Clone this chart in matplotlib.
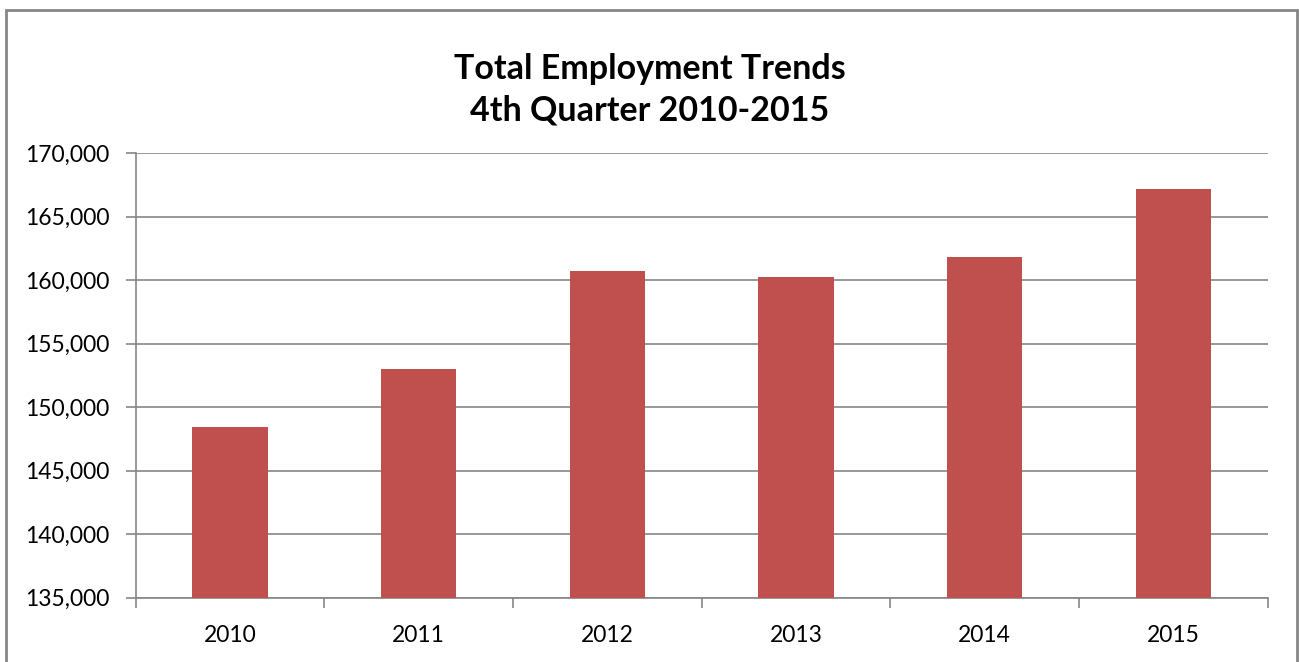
import matplotlib
matplotlib.use("Agg")
import matplotlib.pyplot as plt
from matplotlib.patches import Rectangle
from matplotlib.ticker import FuncFormatter, FixedLocator

years = ["2010", "2011", "2012", "2013", "2014", "2015"]
employment = [148460, 153010, 160710, 160290, 161850, 167210]
title = "Total Employment Trends\n4th Quarter 2010-2015"

plt.rcParams['font.family'] = ['Lato', 'DejaVu Sans']
GRAY = "#868686"
BAR = "#C0504D"

fig = plt.figure(figsize=(12.99, 6.62), dpi=100)
ax = fig.add_axes([0.1045, 0.0971, 0.9759 - 0.1045, 0.7684 - 0.0971])

x = list(range(len(years)))
ax.bar(x, employment, width=0.4, color=BAR, zorder=3)

ax.set_xlim(-0.5, len(years) - 0.5)
ax.set_ylim(135000, 170000)
ax.yaxis.set_major_locator(FixedLocator(range(135000, 170001, 5000)))
ax.yaxis.set_major_formatter(FuncFormatter(lambda v, p: f"{int(v):,}"))
ax.grid(axis='y', color=GRAY, linewidth=1.2, zorder=0)
ax.set_axisbelow(True)

ax.set_xticks(x)
ax.set_xticklabels(years)
ax.set_xticks([i - 0.5 for i in range(len(years) + 1)], minor=True)
ax.tick_params(axis='x', which='major', length=0, pad=20, labelsize=16.5, colors='black')
ax.tick_params(axis='x', which='minor', length=7, width=1.2, color=GRAY, direction='out')
ax.tick_params(axis='y', which='major', length=7, width=1.2, color=GRAY, direction='out', pad=12, labelsize=16.5, labelcolor='black')

for s in ['top', 'right']:
    ax.spines[s].set_visible(False)
for s in ['left', 'bottom']:
    ax.spines[s].set_color(GRAY)
    ax.spines[s].set_linewidth(1.2)

fig.text(0.5, 0.864, title, ha='center', va='center', fontsize=24.5, fontweight='bold', linespacing=1.35)

border = Rectangle((6 / 1299, -0.01), (1297 - 6) / 1299, 1 - 10 / 662 + 0.01, transform=fig.transFigure,
                   fill=False, edgecolor=GRAY, linewidth=2, clip_on=False)
fig.patches.append(border)

fig.savefig("out.png", dpi=100)
